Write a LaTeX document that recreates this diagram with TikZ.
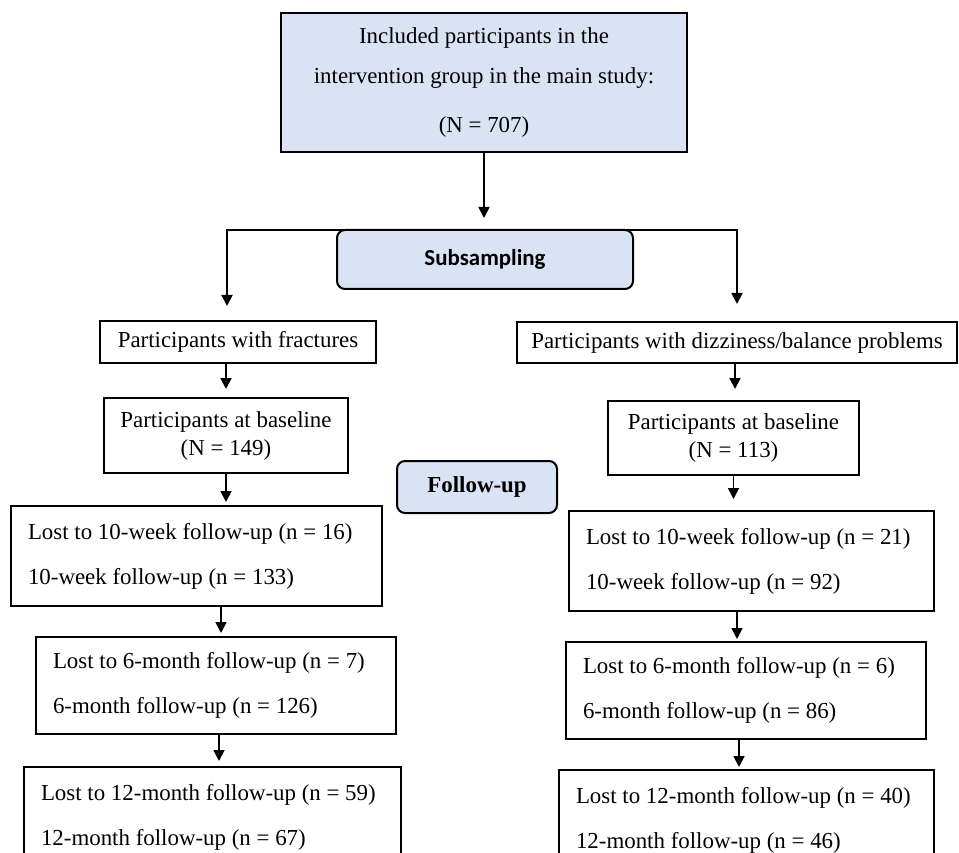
\documentclass[tikz,border=0pt]{standalone}
\usepackage{fontspec}
\setmainfont{Liberation Serif}
\newfontfamily\calibri{Carlito}
\usepackage{xcolor}
\usetikzlibrary{arrows.meta}
\definecolor{boxblue}{HTML}{DAE3F3}

\begin{document}
\begin{tikzpicture}[x=1pt,y=-1pt,font=\fontsize{22.9}{27.5}\selectfont]
\tikzstyle{process} = [rectangle, draw=black, line width=2pt, inner sep=0pt]
\tikzstyle{stagebox} = [process, align=flush left, inner xsep=17pt, font=\fontsize{22.9}{45}\selectfont]
\tikzstyle{roundbox} = [process, rounded corners=8pt, fill=boxblue, font=\bfseries\fontsize{22.9}{27.5}\selectfont]
\tikzstyle{arrow} = [line width=1.8pt,-{Triangle[length=11pt,width=11pt]}]

\useasboundingbox (0,0) rectangle (959,853);
\clip (0,0) rectangle (959,853);

\node (top) [process, fill=boxblue, minimum width=406pt, minimum height=139pt, align=center, font=\fontsize{22.9}{40}\selectfont] at (484,82.5) {Included participants in the\\intervention group in the main study:\\[9pt](N = 707)};
\node (sub) [roundbox, minimum width=296pt, minimum height=59pt, font=\calibri\bfseries\fontsize{22.9}{27.5}\selectfont] at (485,259.5) {Subsampling};

\node (fract) [process, minimum width=276pt, minimum height=42pt] at (238,342) {Participants with fractures};
\node (dizzy) [process, minimum width=440pt, minimum height=41pt] at (737,342.5) {Participants with dizziness/balance problems};
\node (lbase) [process, minimum width=244pt, minimum height=75pt, align=center, font=\fontsize{22.9}{28}\selectfont] at (226,435.5) {Participants at baseline\\(N = 149)};
\node (rbase) [process, minimum width=251pt, minimum height=74pt, align=center, font=\fontsize{22.9}{28}\selectfont] at (733.5,438) {Participants at baseline\\(N = 113)};
\node (follow) [roundbox, minimum width=160pt, minimum height=52pt] at (477,487) {Follow-up};

\node (l10) [stagebox, text width=337pt, minimum height=100pt] at (196.5,556) {Lost to 10-week follow-up (n = 16)\\10-week follow-up (n = 133)};
\node (r10) [stagebox, text width=331pt, minimum height=100pt] at (751.5,561) {Lost to 10-week follow-up (n = 21)\\10-week follow-up (n = 92)};
\node (l6) [stagebox, text width=326pt, minimum height=97pt] at (216,685.5) {Lost to 6-month follow-up (n = 7)\\6-month follow-up (n = 126)};
\node (r6) [stagebox, text width=326pt, minimum height=97pt] at (746,690.5) {Lost to 6-month follow-up (n = 6)\\6-month follow-up (n = 86)};
\node (l12) [stagebox, text width=343pt, minimum height=100pt] at (212.5,817) {Lost to 12-month follow-up (n = 59)\\12-month follow-up (n = 67)};
\node (r12) [stagebox, text width=341pt, minimum height=100pt] at (746.5,820) {Lost to 12-month follow-up (n = 40)\\12-month follow-up (n = 46)};

\coordinate (split) at (484,218);
\coordinate (lturn) at (227,230);
\coordinate (rturn) at (737,230);

\draw [arrow] (top) -- (split);
\draw [line width=1.8pt, line cap=rect] (lturn) -- (rturn);
\draw [arrow, shorten >=14pt] (lturn) -- (lturn |- fract.north);
\draw [arrow, shorten >=17pt] (rturn) -- (rturn |- dizzy.north);

\draw [arrow, shorten >=8pt] (fract.south -| lbase.north) -- (lbase.north);
\draw [arrow, shorten >=11pt] (735,0 |- dizzy.south) -- (735,0 |- rbase.north);
\draw [arrow, shorten >=3pt] (lbase.south) -- (lbase.south |- l10.north);
\draw [arrow, shorten >=11pt] (rbase.south) -- (rbase.south |- r10.north);
\draw [arrow, shorten >=3pt] (221,0 |- l10.south) -- (221,0 |- l6.north);
\draw [arrow, shorten >=2pt] (737,0 |- r10.south) -- (737,0 |- r6.north);
\draw [arrow, shorten >=5pt] (219,0 |- l6.south) -- (219,0 |- l12.north);
\draw [arrow, shorten >=2pt] (739,0 |- r6.south) -- (739,0 |- r12.north);
\end{tikzpicture}
\end{document}
